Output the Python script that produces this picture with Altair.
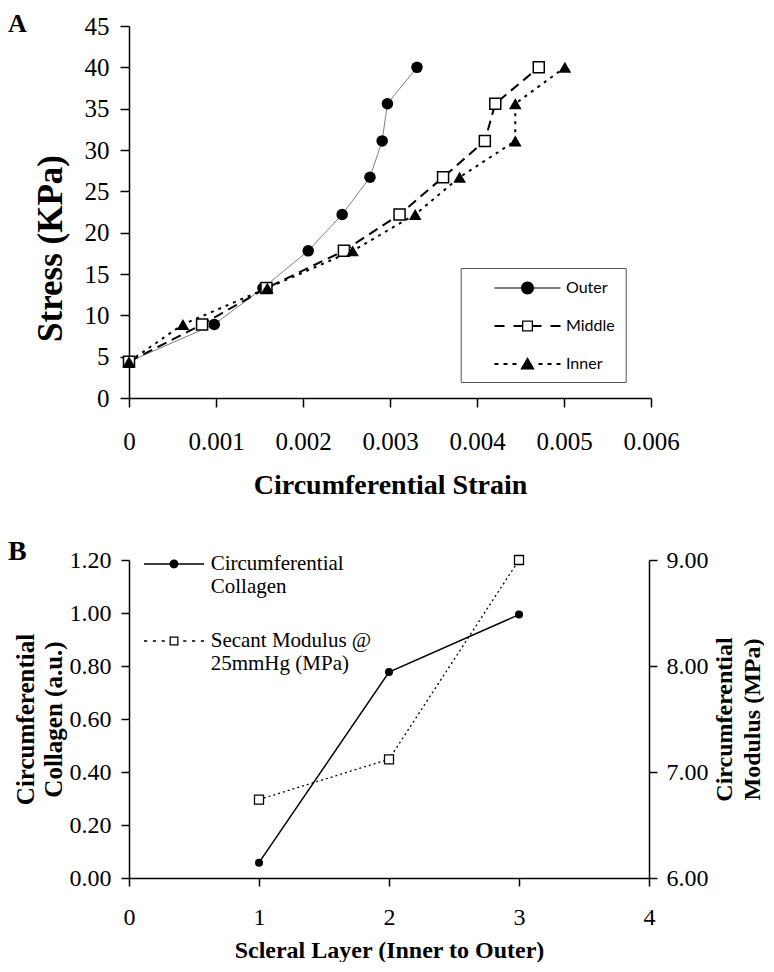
import altair as alt
import pandas as pd

# ---------------- data ----------------
stress_kpa = [4.4, 8.9, 13.3, 17.8, 22.2, 26.7, 31.1, 35.6, 40.0]
strain_outer = [0.0, 0.00098, 0.00154, 0.00206, 0.00245, 0.00277, 0.00291, 0.00297, 0.00331]
strain_middle = [0.0, 0.00084, 0.00158, 0.00247, 0.00311, 0.00361, 0.00409, 0.00421, 0.00471]
strain_inner = [0.0, 0.00062, 0.00159, 0.00257, 0.00329, 0.00380, 0.00444, 0.00444, 0.00501]
series_names = ["Outer", "Middle", "Inner"]

scleral_layer = [1, 2, 3]
collagen_au = [0.058, 0.777, 0.994]
modulus_mpa = [6.74, 7.12, 9.00]
legend_b_names = ["Circumferential|Collagen", "Secant Modulus @|25mmHg (MPa)"]

strain_ticks = [0, 0.001, 0.002, 0.003, 0.004, 0.005, 0.006]
stress_ticks = [0, 5, 10, 15, 20, 25, 30, 35, 40, 45]
layer_ticks = [0, 1, 2, 3, 4]
collagen_ticks = [0.0, 0.2, 0.4, 0.6, 0.8, 1.0, 1.2]
modulus_ticks = [6, 7, 8, 9]

# ---------------- tables ----------------
rows = []
for name, xs in zip(series_names, [strain_outer, strain_middle, strain_inner]):
    for i, (sx, sy) in enumerate(zip(xs, stress_kpa)):
        rows.append({"series": name, "idx": i, "strain": sx, "stress": sy})
df_a = pd.DataFrame(rows)
df_b = pd.DataFrame({"layer": scleral_layer, "collagen": collagen_au, "modulus": modulus_mpa})

SERIF = "Liberation Serif"


# ---------------- legend symbol paths (styling only) ----------------
def f(v):
    return f"{v:.3f}".rstrip("0").rstrip(".")


def rect(x0, x1, h, cy=0.0):
    return f"M{f(x0)},{f(cy - h)}H{f(x1)}V{f(cy + h)}H{f(x0)}Z"


def circle(r, cy=0.0):
    return (f"M{f(-r)},{f(cy)}A{f(r)},{f(r)},0,1,1,{f(r)},{f(cy)}"
            f"A{f(r)},{f(r)},0,1,1,{f(-r)},{f(cy)}Z")


def ring(o, i, cy=0.0):
    outer = f"M{f(-o)},{f(cy - o)}H{f(o)}V{f(cy + o)}H{f(-o)}Z"
    inner = f"M{f(-i)},{f(cy - i)}V{f(cy + i)}H{f(i)}V{f(cy - i)}Z"
    return outer + inner


# panel A legend: 1 unit = 10 px
path_outer = rect(-3.3, -0.6, 0.05) + rect(0.6, 3.3, 0.05) + circle(0.65)
path_middle = (rect(-3.3, -2.3, 0.1) + rect(-1.4, -0.55, 0.1) + rect(0.55, 1.4, 0.1)
               + rect(2.3, 3.3, 0.1) + ring(0.55, 0.42))
path_inner = "".join(rect(a, b, 0.1) for a, b in
                     [(-3.3, -2.9), (-2.4, -2.0), (-1.5, -1.1), (1.1, 1.5), (2.0, 2.4), (2.9, 3.3)])
path_inner += "M0,-0.7L0.72,0.55L-0.72,0.55Z"

# panel B legend: 1 unit = 8 px
path_coll = rect(-3.75, -0.5, 0.094) + rect(0.5, 3.75, 0.094) + circle(0.56)
path_mod = "".join(rect(a, b, 0.094) for a, b in
                   [(-3.75, -3.35), (-2.65, -2.25), (-1.55, -1.15),
                    (1.15, 1.55), (2.25, 2.65), (3.35, 3.75)]) + ring(0.56, 0.4)

# ---------------- panel A ----------------
xa = alt.X("strain:Q", scale=alt.Scale(domain=[0, 0.006], nice=False),
           axis=alt.Axis(values=strain_ticks, format=".3~f", labelFontSize=25, tickSize=9,
                         labelPadding=22, labelFlush=False, labelOverlap=False,
                         title="Circumferential Strain", titleFontSize=28, titleFontWeight="bold",
                         titleX=261, titleY=87, titleAlign="center", titleBaseline="middle"))
ya = alt.Y("stress:Q", scale=alt.Scale(domain=[0, 45], nice=False),
           axis=alt.Axis(values=stress_ticks, labelFontSize=25, tickSize=9, labelPadding=11,
                         labelFlush=False, labelOverlap=False,
                         title="Stress (KPa)", titleFontSize=35, titleFontWeight="bold",
                         titleX=-79, titleY=222, titleAngle=270, titleAlign="center",
                         titleBaseline="middle"))

base_a = alt.Chart(df_a).encode(x=xa, y=ya, order="idx:Q")
line_outer = base_a.transform_filter(alt.datum.series == "Outer").mark_line(color="#808080", strokeWidth=1)
line_middle = base_a.transform_filter(alt.datum.series == "Middle").mark_line(
    color="black", strokeWidth=2, strokeDash=[10, 6])
line_inner = base_a.transform_filter(alt.datum.series == "Inner").mark_line(
    color="black", strokeWidth=2, strokeDash=[3, 5])
pt_outer = base_a.transform_filter(alt.datum.series == "Outer").mark_point(
    shape="circle", filled=True, color="black", size=133, opacity=1)
pt_middle = base_a.transform_filter(alt.datum.series == "Middle").mark_point(
    shape="square", filled=True, fill="white", stroke="black", strokeWidth=1.5, size=121, opacity=1)
pt_inner = base_a.transform_filter(alt.datum.series == "Inner").mark_point(
    shape="triangle-up", filled=True, color="black", size=160, opacity=1)

legend_a = alt.Chart(pd.DataFrame({"series": series_names})).transform_filter("false").mark_point(
    filled=True, color="black", size=400, opacity=1).encode(
    shape=alt.Shape("series:N",
                    scale=alt.Scale(domain=series_names, range=[path_outer, path_middle, path_inner]),
                    legend=alt.Legend(title=None, orient="none", legendX=331.7, legendY=242,
                                      direction="vertical", symbolSize=400, symbolStrokeWidth=0,
                                      symbolOffset=46.8, labelOffset=28.5, labelFont="Lato",
                                      labelFontSize=16, labelColor="black", rowPadding=20,
                                      padding=10, strokeColor="#555555", fillColor="white",
                                      labelLimit=200)))

chart_a = alt.layer(line_outer, line_middle, line_inner, pt_outer, pt_middle, pt_inner, legend_a).properties(
    width=522, height=372,
    title=alt.TitleParams("A", anchor="start", frame="group", orient="top", dx=-121, dy=0,
                          fontSize=26, font=SERIF, fontWeight="bold", baseline="alphabetic",
                          offset=-44, color="black"))

# ---------------- panel B ----------------
xb = alt.X("layer:Q", scale=alt.Scale(domain=[0, 4], nice=False),
           axis=alt.Axis(values=layer_ticks, format="d", labelFontSize=24, tickSize=8,
                         labelPadding=19, labelFlush=False,
                         title="Scleral Layer (Inner to Outer)", titleFontSize=24,
                         titleFontWeight="bold", titleX=260, titleY=72, titleAlign="center",
                         titleBaseline="middle"))
yb_left = alt.Y("collagen:Q", scale=alt.Scale(domain=[0, 1.2], nice=False),
                axis=alt.Axis(orient="left", values=collagen_ticks, format=".2f", labelFontSize=24,
                              tickSize=8, labelPadding=10, labelFlush=False, labelOverlap=False,
                              title=["Circumferential", "Collagen (a.u.)"], titleFontSize=25,
                              titleFontWeight="bold", titleLineHeight=28, titleX=-104, titleY=159,
                              titleAngle=270, titleAlign="center", titleBaseline="middle"))
yb_right = alt.Y("modulus:Q", scale=alt.Scale(domain=[6, 9], nice=False),
                 axis=alt.Axis(orient="right", values=modulus_ticks, format=".2f", labelFontSize=24,
                               tickSize=8, labelPadding=9, labelFlush=False, labelOverlap=False,
                               title=["Circumferential", "Modulus (MPa)"], titleFontSize=24,
                               titleFontWeight="bold", titleLineHeight=28, titleX=75, titleY=159,
                               titleAngle=270, titleAlign="center", titleBaseline="middle"))

base_b = alt.Chart(df_b)
coll_line = base_b.mark_line(color="black", strokeWidth=1.5).encode(x=xb, y=yb_left)
coll_pts = base_b.mark_point(shape="circle", filled=True, color="black", size=64, opacity=1).encode(
    x=xb, y=yb_left)
legend_b = alt.Chart(pd.DataFrame({"entry": legend_b_names})).transform_filter("false").mark_point(
    filled=True, color="black", size=256, opacity=1).encode(
    shape=alt.Shape("entry:N",
                    scale=alt.Scale(domain=legend_b_names, range=[path_coll, path_mod]),
                    legend=alt.Legend(title=None, orient="none", legendX=15, legendY=-6.5,
                                      direction="vertical", symbolSize=256, symbolStrokeWidth=0,
                                      symbolOffset=19.5, labelOffset=26.2, labelFont=SERIF,
                                      labelFontSize=21, labelColor="black",
                                      labelExpr="split(datum.label, '|')", rowPadding=32,
                                      padding=0, labelLimit=300)))
mod_line = base_b.mark_line(color="black", strokeWidth=1.3, strokeDash=[2, 3]).encode(x=xb, y=yb_right)
mod_pts = base_b.mark_point(shape="square", filled=True, fill="white", stroke="black",
                            strokeWidth=1.3, size=81, opacity=1).encode(x=xb, y=yb_right)

left_b = alt.layer(coll_line, coll_pts, legend_b)
right_b = alt.layer(mod_line, mod_pts)
chart_b = alt.layer(left_b, right_b).resolve_scale(y="independent").properties(
    width=520, height=318,
    title=alt.TitleParams("B", anchor="start", frame="group", orient="top", dx=-121, dy=0,
                          fontSize=28, font=SERIF, fontWeight="bold", baseline="alphabetic",
                          offset=-40, color="black"))

chart = alt.vconcat(chart_a, chart_b, spacing=162, bounds="flush").resolve_scale(
    shape="independent").resolve_legend(shape="independent").properties(
    padding={"top": 3, "left": 0, "right": 0, "bottom": 0}).configure_view(
    stroke=None).configure_axis(
    domainColor="black", tickColor="black", labelColor="black", titleColor="black", grid=False,
    labelFont=SERIF, titleFont=SERIF, domainWidth=1.5, tickWidth=1.5).configure_legend(strokeWidth=1)

chart.save("out.html", embed_options={"renderer": "svg", "actions": False})
